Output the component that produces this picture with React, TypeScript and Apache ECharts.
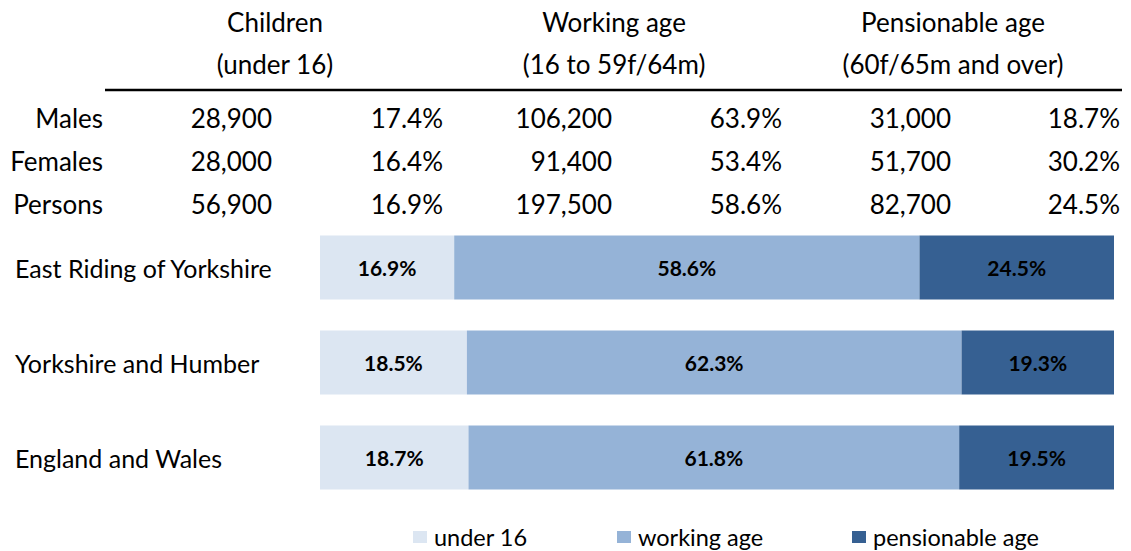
import React, { useEffect, useRef } from "react";
import * as echarts from "echarts";

// Table data
const tableHeaders1 = ["Children", "Working age", "Pensionable age"];
const tableHeaders2 = ["(under 16)", "(16 to 59f/64m)", "(60f/65m and over)"];
const rowLabels = ["Males", "Females", "Persons"];
const childrenCount = ["28,900", "28,000", "56,900"];
const childrenPct = ["17.4%", "16.4%", "16.9%"];
const workingCount = ["106,200", "91,400", "197,500"];
const workingPct = ["63.9%", "53.4%", "58.6%"];
const pensionCount = ["31,000", "51,700", "82,700"];
const pensionPct = ["18.7%", "30.2%", "24.5%"];

// Chart data
const areas = ["East Riding of Yorkshire", "Yorkshire and Humber", "England and Wales"];
const seriesNames = ["under 16", "working age", "pensionable age"];
const under16 = [16.9, 18.5, 18.7];
const workingAge = [58.6, 62.3, 61.8];
const pensionableAge = [24.5, 19.3, 19.5];

const colors = ["#DCE6F2", "#95B3D7", "#366092"];
const FONT = "Lato, 'Open Sans', sans-serif";

export default function App() {
  const ref = useRef<HTMLDivElement>(null);
  useEffect(() => {
    if (!ref.current) return;
    const chart = echarts.init(ref.current, null, { renderer: "svg" });

    const headerX = [275, 614, 953];
    const colRight = [272, 443, 612, 782, 951, 1120];
    const rowY = [118, 161, 204];
    const columns = [childrenCount, childrenPct, workingCount, workingPct, pensionCount, pensionPct];
    const txt = (text: string, x: number, y: number, align: string) => ({
      type: "text",
      x,
      y,
      style: {
        text,
        fill: "#000",
        font: `26px ${FONT}`,
        textAlign: align,
        textVerticalAlign: "middle",
      },
    });
    const graphics: any[] = [];
    tableHeaders1.forEach((h, i) => graphics.push(txt(h, headerX[i], 22, "center")));
    tableHeaders2.forEach((h, i) => graphics.push(txt(h, headerX[i], 64, "center")));
    graphics.push({
      type: "line",
      shape: { x1: 105, y1: 90, x2: 1122, y2: 90 },
      style: { stroke: "#000", lineWidth: 2.5 },
    });
    rowLabels.forEach((r, i) => graphics.push(txt(r, 103, rowY[i], "right")));
    columns.forEach((col, c) =>
      col.forEach((v, i) => graphics.push(txt(v, colRight[c], rowY[i], "right")))
    );

    const legendLefts = [413, 617, 852];
    const vals = [under16, workingAge, pensionableAge];

    chart.setOption({
      animation: false,
      textStyle: { fontFamily: FONT },
      grid: { left: 320, right: 17, top: 220, height: 285, containLabel: false },
      xAxis: {
        type: "value",
        min: 0,
        max: 100,
        show: false,
      },
      yAxis: {
        type: "category",
        data: areas,
        inverse: true,
        axisLine: { show: false },
        axisTick: { show: false },
        axisLabel: {
          align: "left",
          margin: 305,
          fontSize: 25,
          color: "#000",
          fontFamily: FONT,
        },
      },
      legend: seriesNames.map((n, i) => ({
        data: [n],
        left: legendLefts[i],
        top: 525,
        padding: 0,
        itemWidth: 14,
        itemHeight: 12,
        icon: "rect",
        selectedMode: false,
        textStyle: { fontSize: 23.5, color: "#000", fontFamily: FONT, lineHeight: 24, padding: [0, 0, 0, 2] },
      })),
      series: seriesNames.map((n, i) => ({
        name: n,
        type: "bar",
        stack: "total",
        barWidth: 64,
        data: vals[i],
        itemStyle: { color: colors[i] },
        label: {
          show: true,
          position: "inside",
          formatter: (p: any) => `${p.value.toFixed(1)}%`,
          fontSize: 21,
          fontWeight: "bold",
          color: "#000",
          fontFamily: FONT,
        },
      })),
      graphic: graphics,
    });
    return () => chart.dispose();
  }, []);
  return (
    <div
      ref={ref}
      style={{ position: "absolute", left: 0, top: 0, width: 1131, height: 551, background: "#fff" }}
    />
  );
}
